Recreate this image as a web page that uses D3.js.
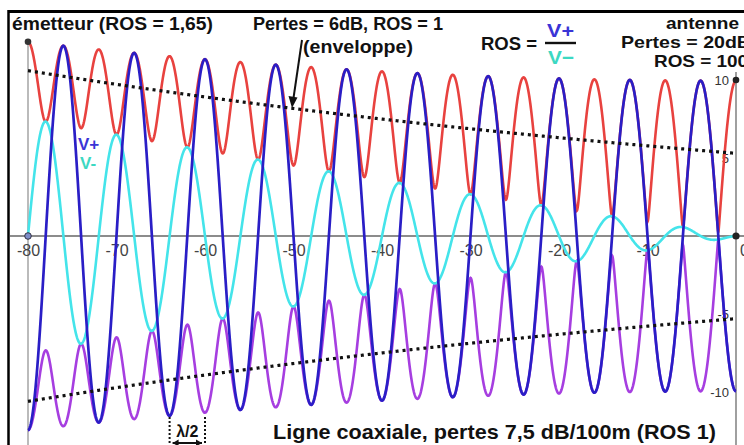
<!DOCTYPE html>
<html><head><meta charset="utf-8">
<script src="https://cdn.jsdelivr.net/npm/d3@7"></script>
<style>
html,body{margin:0;padding:0;background:#fff;}
svg{display:block;font-family:"Liberation Sans",Arial,sans-serif;}
</style></head>
<body>
<svg id="c" width="744" height="445"></svg>
<script>
// ---- data ----
const lineEnds = [-80, 0];            // emitter, antenna position (m)
const xTicks = [-80, -70, -60, -50, -40, -30, -20, -10, 0];
const yTicks = [10, 5, -5, -10];
const wavelength = [8];               // metres
const forwardAmp = [10, 5];           // V+ amplitude at emitter, antenna
const reflectedAmp = [2.45, 4.95];    // V- amplitude at emitter, antenna
const envelopeAmp = [10.6, 5.3];      // dotted envelope (ROS=1), emitter, antenna
const lambdaMark = [-64, -60];        // λ/2 marker positions

const svg = d3.select("#c");
const x = d3.scaleLinear().domain([-80, 0]).range([28, 736]);
const y = d3.scaleLinear().domain([-10, 10]).range([392, 80]);

const L = lineEnds[1] - lineEnds[0];
function ampAt(arr, xv) { const t = (xv - lineEnds[0]) / L; return arr[0] * Math.pow(arr[1] / arr[0], t); }
const k = 2 * Math.PI / wavelength[0];
const xs = d3.range(lineEnds[0], lineEnds[1] + 1e-9, 0.04);
const E = v => ampAt(forwardAmp, v), R = v => ampAt(reflectedAmp, v);
const blue = xs.map(v => [v, -(E(v) + R(v)) * Math.cos(k * v)]);
const cyan = xs.map(v => [v, (E(v) - R(v)) * Math.sin(k * v)]);
const env = v => Math.sqrt(Math.pow((E(v) + R(v)) * Math.cos(k * v), 2) + Math.pow((E(v) - R(v)) * Math.sin(k * v), 2));
const red = xs.map(v => [v, env(v)]);
const purple = xs.map(v => [v, -env(v)]);
const dotUp = xs.map(v => [v, ampAt(envelopeAmp, v)]);
const dotDn = xs.map(v => [v, -ampAt(envelopeAmp, v)]);

const line = d3.line().x(d => x(d[0])).y(d => y(d[1]));

// frame
svg.append("line").attr("x1", 8).attr("x2", 744).attr("y1", 11.5).attr("y2", 11.5).attr("stroke", "#000").attr("stroke-width", 3);
svg.append("line").attr("x1", 8.5).attr("x2", 8.5).attr("y1", 10).attr("y2", 445).attr("stroke", "#000").attr("stroke-width", 2.5);

// axes
svg.append("line").attr("x1", 10).attr("x2", 744).attr("y1", y(0)).attr("y2", y(0)).attr("stroke", "#666").attr("stroke-width", 1.6);
svg.append("line").attr("x1", x(0)).attr("x2", x(0)).attr("y1", 72).attr("y2", 445).attr("stroke", "#777").attr("stroke-width", 1.4);
svg.append("line").attr("x1", x(-80)).attr("x2", x(-80)).attr("y1", y(12.45)).attr("y2", 445).attr("stroke", "#aaa").attr("stroke-width", 1.6);

const xAxis = d3.axisBottom(x).tickValues(xTicks.filter(t => t !== 0)).tickSize(0).tickFormat(d => d);
const gx = svg.append("g").attr("transform", `translate(0,${y(0)})`).call(xAxis);
gx.select(".domain").remove();
gx.selectAll("text").attr("font-size", 16).attr("fill", "#444").attr("dy", "1.05em")
  .attr("font-family", "Liberation Sans, Arial, sans-serif");
svg.append("text").attr("x", 740).attr("y", 256).attr("font-size", 16).attr("fill", "#444").text(xTicks[xTicks.length - 1]);

const yAxis = d3.axisLeft(y).tickValues(yTicks).tickSize(0).tickPadding(7).tickFormat(d => d);
const gy = svg.append("g").attr("transform", `translate(${x(0)},0)`).call(yAxis);
gy.select(".domain").remove();
gy.selectAll("text").attr("font-size", 13).attr("fill", "#333").attr("font-family", "Liberation Sans, Arial, sans-serif");

// curves
svg.append("path").datum(red).attr("d", line).attr("fill", "none").attr("stroke", "#e8423f").attr("stroke-width", 2.6);
svg.append("path").datum(purple).attr("d", line).attr("fill", "none").attr("stroke", "#a63ee0").attr("stroke-width", 2.6);
svg.append("path").datum(cyan).attr("d", line).attr("fill", "none").attr("stroke", "#44e4ea").attr("stroke-width", 2.6);
svg.append("path").datum(blue).attr("d", line).attr("fill", "none").attr("stroke", "#2a1ec6").attr("stroke-width", 2.7);
[dotUp, dotDn].forEach(dd => svg.append("path").datum(dd).attr("d", line).attr("fill", "none")
  .attr("stroke", "#111").attr("stroke-width", 3.2).attr("stroke-dasharray", "3 4"));

// points
svg.append("circle").attr("cx", x(-80)).attr("cy", y(12.45)).attr("r", 3.3).attr("fill", "#333");
svg.append("circle").attr("cx", x(-80)).attr("cy", y(0)).attr("r", 3.3).attr("fill", "#7f8dc8").attr("stroke", "#334").attr("stroke-width", 1);
svg.append("circle").attr("cx", x(0)).attr("cy", y(0)).attr("r", 3.6).attr("fill", "#222");
svg.append("circle").attr("cx", x(0)).attr("cy", y(10)).attr("r", 3.3).attr("fill", "#222");

// λ/2 marker
lambdaMark.forEach(v => svg.append("line").attr("x1", x(v)).attr("x2", x(v)).attr("y1", 417).attr("y2", 445)
  .attr("stroke", "#111").attr("stroke-width", 2).attr("stroke-dasharray", "2 2"));
svg.append("text").attr("x", (x(lambdaMark[0]) + x(lambdaMark[1])) / 2).attr("y", 437).attr("text-anchor", "middle")
  .attr("font-size", 16).attr("font-weight", "bold").attr("fill", "#111").text("λ/2");
const ay = 443, ax0 = x(lambdaMark[0]) + 3, ax1 = x(lambdaMark[1]) - 3;
svg.append("line").attr("x1", ax0).attr("x2", ax1).attr("y1", ay).attr("y2", ay).attr("stroke", "#111").attr("stroke-width", 2);
svg.append("path").attr("d", `M${ax0},${ay}l6,-3.5v7z M${ax1},${ay}l-6,-3.5v7z`).attr("fill", "#111");

// texts
const T = (tx, ty, s, opt = {}) => {
  const t = svg.append("text").attr("x", tx).attr("y", ty)
    .attr("font-size", opt.size || 18).attr("font-weight", "bold").attr("fill", opt.fill || "#111")
    .attr("text-anchor", opt.anchor || "start").text(s);
  if (opt.len) t.attr("textLength", opt.len).attr("lengthAdjust", "spacingAndGlyphs");
  return t;
};
T(12, 30, "émetteur (ROS = 1,65)", { len: 201 });
T(253, 30, "Pertes = 6dB, ROS = 1", { len: 190 });
T(303, 53, "(enveloppe)", { len: 110 });
T(481, 50, "ROS =", { len: 56 });
T(547, 37, "V+", { fill: "#3a34d6", size: 19, len: 27 });
T(548, 64, "V−", { fill: "#3cd8c2", size: 19, len: 26 });
svg.append("line").attr("x1", 545).attr("x2", 576).attr("y1", 43).attr("y2", 43).attr("stroke", "#111").attr("stroke-width", 2.4);
T(666, 29, "antenne", { len: 73, size: 16.5 });
T(621, 48, "Pertes = 20dB", { len: 130, size: 16.5 });
T(654, 67, "ROS = 100", { len: 94, size: 16.5 });
T(78, 150, "V+", { fill: "#3a34d6", size: 17 });
T(80, 169, "V-", { fill: "#3cd8c2", size: 17 });
T(273, 439, "Ligne coaxiale, pertes 7,5 dB/100m (ROS 1)", { size: 20.5, len: 443 });

// arrow
svg.append("line").attr("x1", 302).attr("y1", 40).attr("x2", 293.5).attr("y2", 98).attr("stroke", "#111").attr("stroke-width", 2);
svg.append("path").attr("d", "M292,108 L288.5,96 L297.5,97.5 Z").attr("fill", "#111");
</script>
</body></html>
